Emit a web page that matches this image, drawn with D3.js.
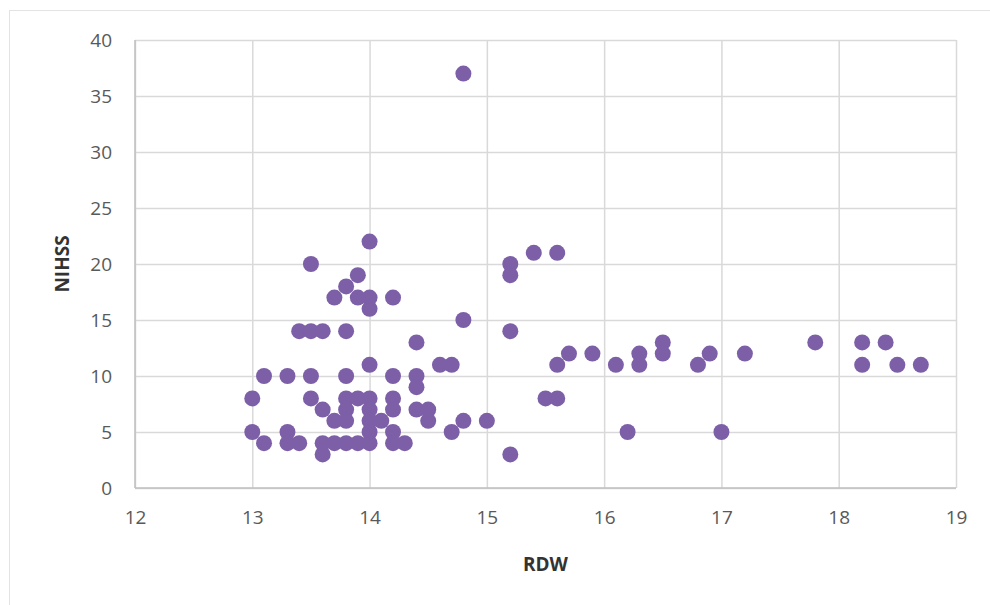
<!DOCTYPE html>
<html>
<head>
<meta charset="utf-8">
<script src="https://cdn.jsdelivr.net/npm/d3@7"></script>
<style>
  html, body { margin: 0; padding: 0; background: #fff; }
  svg { display: block; font-family: "Open Sans", "Liberation Sans", sans-serif; }
</style>
</head>
<body>
<svg id="chart" width="990" height="605"></svg>
<script>
// RDW values (x) and NIHSS scores (y)
const rdw = [
  13, 13, 13.1, 13.1, 13.3, 13.3, 13.3, 13.4, 13.4, 13.5, 13.5, 13.5, 13.5,
  13.6, 13.6, 13.6, 13.6, 13.7, 13.7, 13.7, 13.8, 13.8, 13.8, 13.8, 13.8, 13.8, 13.8,
  13.9, 13.9, 13.9, 13.9, 14, 14, 14, 14, 14, 14, 14, 14, 14, 14.1,
  14.2, 14.2, 14.2, 14.2, 14.2, 14.2, 14.3, 14.4, 14.4, 14.4, 14.4, 14.5, 14.5,
  14.6, 14.7, 14.7, 14.8, 14.8, 14.8, 15, 15.2, 15.2, 15.2, 15.2, 15.4, 15.5,
  15.6, 15.6, 15.6, 15.7, 15.9, 16.1, 16.2, 16.3, 16.3, 16.5, 16.5, 16.8, 16.9,
  17, 17.2, 17.8, 18.2, 18.2, 18.4, 18.5, 18.7
];
const nihss = [
  8, 5, 10, 4, 10, 5, 4, 14, 4, 20, 14, 10, 8,
  14, 7, 4, 3, 17, 6, 4, 18, 14, 10, 8, 7, 6, 4,
  19, 17, 8, 4, 22, 17, 16, 11, 8, 7, 6, 5, 4, 6,
  17, 10, 8, 7, 5, 4, 4, 13, 10, 9, 7, 7, 6,
  11, 11, 5, 37, 15, 6, 6, 20, 19, 14, 3, 21, 8,
  21, 11, 8, 12, 12, 11, 5, 12, 11, 13, 12, 11, 12,
  5, 12, 13, 13, 11, 13, 11, 11
];
const xTicks = [12, 13, 14, 15, 16, 17, 18, 19];
const yTicks = [0, 5, 10, 15, 20, 25, 30, 35, 40];

const svg = d3.select("#chart");
const margin = { left: 135, top: 40, right: 34, bottom: 117 };
const w = 990 - margin.left - margin.right;
const h = 605 - margin.top - margin.bottom;

// faint outer frame of the chart object
svg.append("line").attr("x1", 9.5).attr("x2", 9.5).attr("y1", 10).attr("y2", 605)
  .attr("stroke", "#e3e3e3");
svg.append("line").attr("x1", 9).attr("x2", 990).attr("y1", 10.5).attr("y2", 10.5)
  .attr("stroke", "#e3e3e3");

const x = d3.scaleLinear().domain([12, 19]).range([0, w]);
const y = d3.scaleLinear().domain([0, 40]).range([h, 0]);

const g = svg.append("g").attr("transform", `translate(${margin.left},${margin.top})`);

// gridlines
g.append("g")
  .call(d3.axisLeft(y).tickValues(yTicks).tickSize(-w).tickFormat(""))
  .call(a => a.select(".domain").remove())
  .selectAll("line").attr("stroke", "#d9d9d9").attr("stroke-width", 1.5);
g.append("g")
  .attr("transform", `translate(0,${h})`)
  .call(d3.axisBottom(x).tickValues(xTicks).tickSize(-h).tickFormat(""))
  .call(a => a.select(".domain").remove())
  .selectAll("line").attr("stroke", "#d9d9d9").attr("stroke-width", 1.5);

// axis lines
g.append("line").attr("x1", 0).attr("x2", 0).attr("y1", 0).attr("y2", h)
  .attr("stroke", "#bfbfbf").attr("stroke-width", 1.5);
g.append("line").attr("x1", 0).attr("x2", w).attr("y1", h).attr("y2", h)
  .attr("stroke", "#bfbfbf").attr("stroke-width", 1.5);

// tick labels
const yAxis = g.append("g")
  .call(d3.axisLeft(y).tickValues(yTicks).tickSize(0).tickPadding(23).tickFormat(d3.format("d")));
yAxis.select(".domain").remove();
yAxis.selectAll("text").attr("fill", "#595959").style("font-size", "19px")
  .style("font-family", "'Open Sans', sans-serif");

const xAxis = g.append("g")
  .attr("transform", `translate(0,${h})`)
  .call(d3.axisBottom(x).tickValues(xTicks).tickSize(0).tickPadding(23).tickFormat(d3.format("d")));
xAxis.select(".domain").remove();
xAxis.selectAll("text").attr("fill", "#595959").style("font-size", "19px")
  .style("font-family", "'Open Sans', sans-serif");

// points
g.append("g").selectAll("circle")
  .data(rdw.map((v, i) => [v, nihss[i]]))
  .join("circle")
  .attr("cx", d => x(d[0]))
  .attr("cy", d => y(d[1]))
  .attr("r", 8)
  .attr("fill", "#7d5fa8");

// axis titles
svg.append("text")
  .attr("x", margin.left + w / 2)
  .attr("y", 571)
  .attr("text-anchor", "middle")
  .attr("fill", "#333")
  .style("font-size", "19px")
  .style("font-weight", "bold")
  .text("RDW");

svg.append("text")
  .attr("transform", `translate(69,${margin.top + h / 2}) rotate(-90)`)
  .attr("text-anchor", "middle")
  .attr("fill", "#333")
  .style("font-size", "19px")
  .style("font-weight", "bold")
  .text("NIHSS");
</script>
</body>
</html>
